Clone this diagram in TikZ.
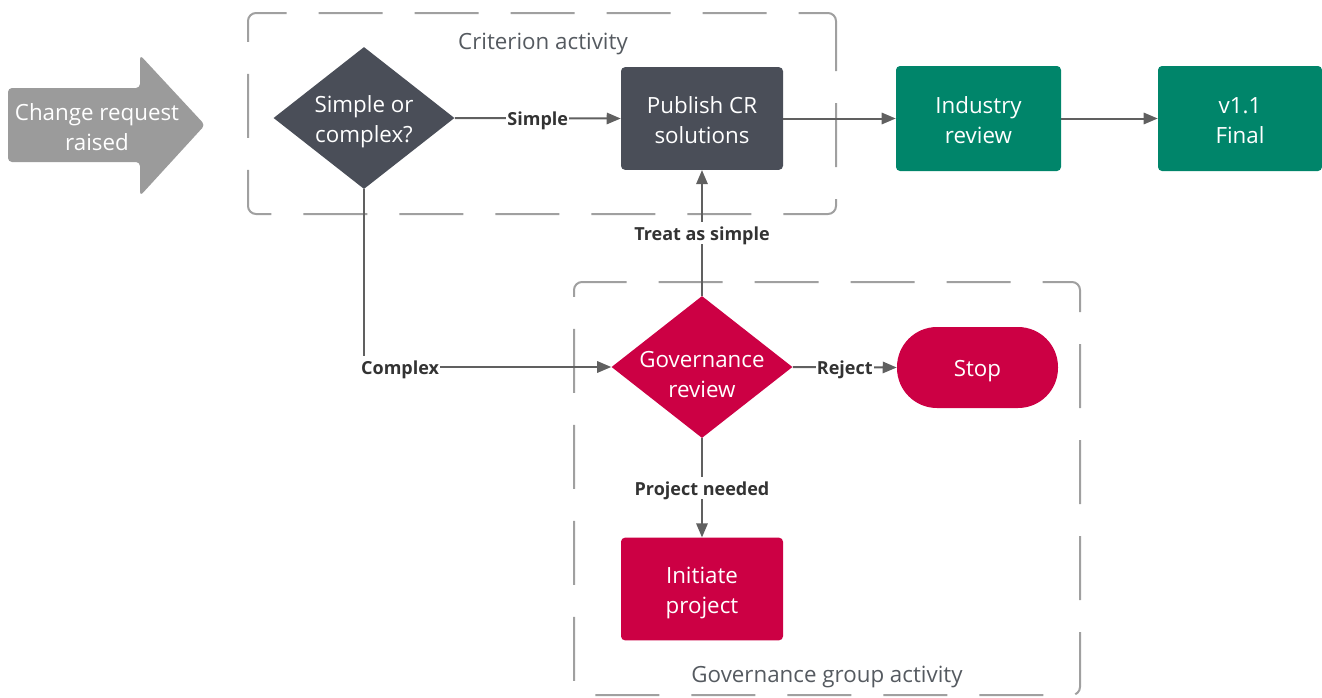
\documentclass[tikz,border=0pt]{standalone}
\usepackage{fontspec}
\setmainfont{Open Sans}
\usetikzlibrary{arrows.meta, shapes.geometric, positioning}
\definecolor{Slate}  {HTML}{4A4E58}
\definecolor{Crim}   {HTML}{CC0044}
\definecolor{Teal}   {HTML}{00856A}
\definecolor{ArrG}   {HTML}{9B9B9B}
\definecolor{DashG}  {HTML}{A0A0A0}
\definecolor{MGray}  {HTML}{606060}
\definecolor{TGray}  {HTML}{555A60}
\definecolor{LblK}   {HTML}{333333}
\tikzset{
  blk/.style={
    rectangle, rounded corners=3pt, fill=#1, text=white,
    font=\fontsize{16.75}{22.5}\selectfont, align=center,
    text height=41pt, text depth=4pt,
    inner sep=0pt, minimum width=121.5pt, minimum height=77pt,
  },
  dmd/.style={
    diamond, aspect=1.27, fill=#1, text=white,
    font=\fontsize{16.75}{22.5}\selectfont, align=center,
    text height=41pt, text depth=4pt,
    inner sep=-10pt, minimum width=135.75pt, minimum height=106.5pt,
  },
  rgn/.style={
    draw=DashG, rounded corners=6pt, line width=1.5pt,
    dash pattern=on 48pt off 24pt, dash phase=26pt,
  },
  rlbl/.style={
    font=\fontsize{16.75}{22.5}\selectfont, text=TGray,
  },
  arr/.style={
    -{Triangle[length=10.5pt,width=8.5pt]},
    line width=1.5pt, color=MGray,
  },
  lbl/.style={
    font=\fontsize{13.5}{15}\selectfont\bfseries, text=LblK,
    text height=12.5pt, text depth=1.5pt,
    fill=white, inner sep=1pt,
  },
}
\begin{document}
\begin{tikzpicture}[x=0.75pt,y=-0.75pt]
  \useasboundingbox (0,0) rectangle (1322,697);

  % regions
  \node[rgn, minimum width=441pt, minimum height=150.75pt] (crit) at (542,113.5) {};
  \node[rlbl] (critT) at (543,44) {Criterion activity};
  \node[rgn, minimum width=379.5pt, minimum height=309.75pt] (govb) at (827,488.5) {};
  \node[rlbl] (govT) at (827,677) {Governance group activity};

  % start arrow
  \fill[ArrG, rounded corners=3pt] (8,88) -- (140,88) -- (140,55) -- (205,125)
        -- (140,196) -- (140,162) -- (8,162) -- cycle;
  \node[blk=none] (cr) at (97,125.5) {Change request\\raised};

  \node[dmd=Slate] (scx) at (364,118) {Simple or\\complex?};
  \node[blk=Slate] (pub) at (702,118.5) {Publish CR\\solutions};
  \node[blk=Teal, minimum width=123.75pt, minimum height=78.75pt] (ind) at (978.5,118.5) {Industry\\review};
  \node[blk=Teal, minimum width=123pt, minimum height=78.75pt] (fin) at (1240,118.5) {v1.1\\Final};

  \node[dmd=Crim, text height=49.5pt] (gov) at (702,367) {Governance\\review};
  \node[blk=Crim, rounded corners=30pt, text height=17pt,
        minimum width=120.75pt, minimum height=60.75pt] (stop) at (977.5,367.5) {Stop};
  \node[blk=Crim] (ini) at (702,589) {Initiate\\project};

  \draw[arr] (scx.east) -- node[lbl]{Simple} (pub.west);
  \draw[arr] (pub.east) -- (ind.west);
  \draw[arr] (ind.east) -- (fin.west);
  \draw[arr] (scx.south) |- node[lbl, pos=0.573]{Complex} (gov.west);
  \draw[arr] (gov.north) -- node[lbl]{Treat as simple} (pub.south);
  \draw[arr] (gov.east) -- node[lbl]{Reject} (stop.west);
  \draw[arr] (gov.south) -- node[lbl]{Project needed} (ini.north);

\end{tikzpicture}
\end{document}
